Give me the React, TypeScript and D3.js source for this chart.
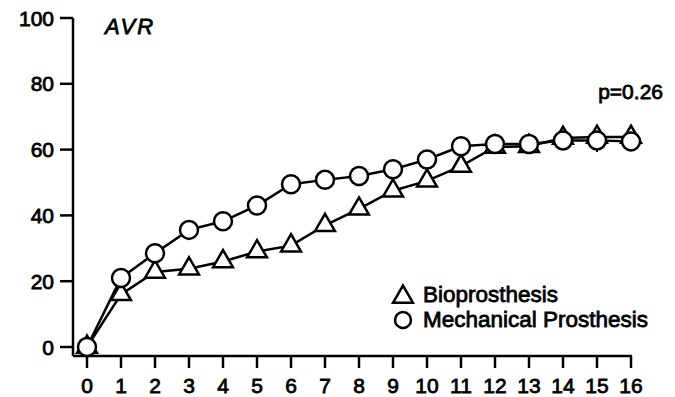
import * as React from 'react';
import * as d3 from 'd3';

const years = [0, 1, 2, 3, 4, 5, 6, 7, 8, 9, 10, 11, 12, 13, 14, 15, 16];
const bioValues = [0, 16, 22.8, 23.8, 26, 29, 30.8, 37, 42, 47.5, 50.5, 55, 60.8, 61, 63.5, 63.8, 63.8];
const mechValues = [0, 21, 28.5, 35.6, 38.2, 43, 49.5, 50.8, 52, 54, 57, 61, 61.7, 61.7, 62.8, 62.8, 62.5];
const bioErr = [0, 0, 0, 0, 0, 0, 0, 0, 0, 0, 0, 0, 0, 0, 3.5, 3.5, 3.5];
const mechErr = [0, 0, 0, 0, 0, 2.5, 2.5, 0, 0, 0, 0, 0, 0, 0, 0, 3.5, 0];
const yTicks = [0, 20, 40, 60, 80, 100];
const seriesNames = ['Bioprosthesis', 'Mechanical Prosthesis'];

const W = 675;
const H = 397;
const font = '"Liberation Sans", Arial, sans-serif';

export default function App() {
  const x = d3.scaleLinear().domain([0, 16]).range([87, 631]);
  const y = d3.scaleLinear().domain([0, 100]).range([347, 18]);
  const axisX = 73;
  const axisY = 356;

  const line = d3.line<number>()
    .x((_, i) => x(years[i]))
    .y((d) => y(d));

  const tri = d3.symbol().type(d3.symbolTriangle).size(170)();

  const txt = { fontFamily: font, fill: '#000', stroke: '#000', strokeWidth: 0.8 };

  return (
    <svg width={W} height={H} style={{ position: 'absolute', left: 0, top: 0, background: '#fff' }}>
      {/* axes */}
      <line x1={axisX} x2={axisX} y1={y(100)} y2={axisY} stroke="#000" strokeWidth={2.5} />
      <line x1={axisX} x2={x(16) + 1} y1={axisY} y2={axisY} stroke="#000" strokeWidth={2.5} />
      {yTicks.map((t) => (
        <g key={t}>
          <line x1={axisX - 13} x2={axisX} y1={y(t)} y2={y(t)} stroke="#000" strokeWidth={2.5} />
          <text x={54} y={y(t)} dy="0.36em" textAnchor="end" fontSize={21} {...txt}>{t}</text>
        </g>
      ))}
      {years.map((t) => (
        <g key={t}>
          <line x1={x(t)} x2={x(t)} y1={axisY} y2={axisY + 12} stroke="#000" strokeWidth={2.5} />
          <text x={x(t)} y={393} textAnchor="middle" fontSize={21} {...txt}>{t}</text>
        </g>
      ))}

      <text x={105} y={34} fontSize={22} fontStyle="italic" letterSpacing={2} {...txt}>AVR</text>
      <text x={663} y={99} textAnchor="end" fontSize={21} {...txt}>p=0.26</text>

      {/* error bars */}
      {bioValues.map((v, i) => bioErr[i] > 0 && (
        <line key={'be' + i} x1={x(years[i])} x2={x(years[i])} y1={y(v - bioErr[i])} y2={y(v + bioErr[i])} stroke="#000" strokeWidth={2} />
      ))}
      {mechValues.map((v, i) => mechErr[i] > 0 && (
        <line key={'me' + i} x1={x(years[i])} x2={x(years[i])} y1={y(v - mechErr[i])} y2={y(v + mechErr[i])} stroke="#000" strokeWidth={2} />
      ))}

      {/* lines */}
      <path d={line(bioValues) || ''} fill="none" stroke="#000" strokeWidth={2.5} />
      <path d={line(mechValues) || ''} fill="none" stroke="#000" strokeWidth={2.5} />

      {bioValues.map((v, i) => (
        <path key={'b' + i} d={tri || ''} transform={`translate(${x(years[i])},${y(v)})`} fill="#fff" stroke="#000" strokeWidth={2.5} />
      ))}
      {mechValues.map((v, i) => (
        <circle key={'m' + i} cx={x(years[i])} cy={y(v)} r={9} fill="#fff" stroke="#000" strokeWidth={2.5} />
      ))}

      {/* legend */}
      <path d={tri || ''} transform="translate(403,297)" fill="#fff" stroke="#000" strokeWidth={2.5} />
      <text x={423} y={302} fontSize={22.5} {...txt}>{seriesNames[0]}</text>
      <circle cx={403} cy={320} r={8} fill="#fff" stroke="#000" strokeWidth={2.5} />
      <text x={423} y={327} fontSize={22.5} {...txt}>{seriesNames[1]}</text>
    </svg>
  );
}
